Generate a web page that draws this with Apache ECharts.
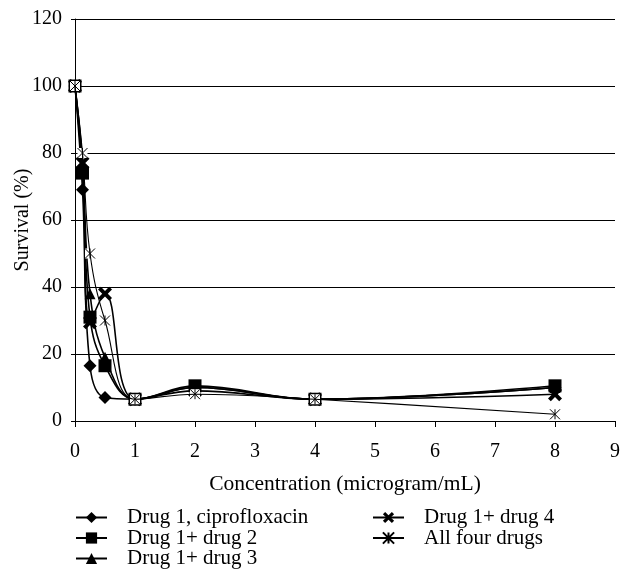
<!DOCTYPE html>
<html><head><meta charset="utf-8">
<script src="https://cdn.jsdelivr.net/npm/echarts@6/dist/echarts.min.js"></script>
<style>html,body{margin:0;padding:0;background:#fff}#c{width:621px;height:577px}</style>
</head><body><div id="c"></div>
<script>
const concentrations = [0, 0.125, 0.25, 0.5, 1, 2, 4, 8];
const seriesNames = ['Drug 1, ciprofloxacin', 'Drug 1+ drug 2', 'Drug 1+ drug 3', 'Drug 1+ drug 4', 'All four drugs'];
const drug1 = [100, 69, 16.5, 7, 6.5, 10, 6.5, 10];
const drug1_2 = [100, 74, 31, 16.5, 6.5, 10.5, 6.5, 10.5];
const drug1_3 = [100, 76.5, 38, 19, 6.5, 10, 6.5, 10];
const drug1_4 = [100, 77, 29.5, 38, 6.5, 9, 6.5, 8];
const allFour = [100, 80, 50, 30, 6.5, 8, 6.5, 2];
const yTicks = [0, 20, 40, 60, 80, 100, 120];
const xTicks = [0, 1, 2, 3, 4, 5, 6, 7, 8, 9];

const FONT = '"Liberation Serif", "DejaVu Serif", serif';
const xSym = 'path://M0,2L2,0L5,3L8,0L10,2L7,5L10,8L8,10L5,7L2,10L0,8L3,5Z';
const starSym = 'path://M0,0L10,10M10,0L0,10M5,0L5,10';

function pairs(arr){ return concentrations.map((c,i)=>[c, arr[i]]); }
const allData = [drug1, drug1_2, drug1_3, drug1_4, allFour];
const symbols = ['diamond', 'rect', 'triangle', xSym, starSym];
const sizes = [13, 13, 11, 14, 10];

const series = [];
allData.forEach((d, i) => {
  if (i === 4) {
    // white backing box behind the asterisk markers
    series.push({
      name: '', type: 'line', data: pairs(d), smooth: 0.4, silent: true,
      symbol: 'rect', symbolSize: 10, showAllSymbol: true,
      lineStyle: {width: 0, opacity: 0},
      itemStyle: {color: '#fff'}, z: 3
    });
  }
  const s = {
    name: seriesNames[i], type: 'line', data: pairs(d), smooth: 0.4,
    symbol: symbols[i], symbolSize: sizes[i], showAllSymbol: true,
    lineStyle: {color: '#000', width: 1.6},
    itemStyle: {color: '#000'},
    z: 2
  };
  if (i === 4) {
    s.itemStyle = {color: '#fff', borderColor: '#000', borderWidth: 1};
    s.lineStyle.width = 1.1;
    s.z = 4;
  }
  series.push(s);
});

const legendPos = [[75, 507], [75, 527.5], [75, 548], [372, 507], [372, 527.5]];
const legends = seriesNames.map((n, i) => ({
  data: [n], left: legendPos[i][0], top: legendPos[i][1], padding: 0,
  itemWidth: 31, itemHeight: 14, selectedMode: false,
  textStyle: {fontFamily: FONT, fontSize: 21, lineHeight: 20, color: '#000', padding: [0, 0, 0, 15]}
}));

const chart = echarts.init(document.getElementById('c'), null, {renderer: 'canvas'});
chart.setOption({
  animation: false,
  backgroundColor: '#fff',
  grid: {left: 75, right: 6, top: 19, bottom: 156, containLabel: false, outerBoundsMode: 'none'},
  xAxis: {
    type: 'value', min: xTicks[0], max: xTicks[xTicks.length-1], interval: 1,
    name: 'Concentration (microgram/mL)', nameLocation: 'middle', nameGap: 52, nameMoveOverlap: false,
    nameTextStyle: {fontFamily: FONT, fontSize: 21.5, color: '#000'},
    axisLine: {show: true, onZero: false, lineStyle: {color: '#000', width: 1}},
    axisTick: {show: true, length: 6, lineStyle: {color: '#000'}},
    axisLabel: {fontFamily: FONT, fontSize: 20, color: '#000', margin: 21},
    splitLine: {show: false}
  },
  yAxis: {
    type: 'value', min: yTicks[0], max: yTicks[yTicks.length-1], interval: 20,
    name: 'Survival (%)', nameLocation: 'middle', nameGap: 42, nameMoveOverlap: false,
    nameTextStyle: {fontFamily: FONT, fontSize: 20, color: '#000'},
    axisLine: {show: true, lineStyle: {color: '#000', width: 1}},
    axisTick: {show: true, length: 4, lineStyle: {color: '#000'}},
    axisLabel: {fontFamily: FONT, fontSize: 20, color: '#000', margin: 13},
    splitLine: {show: true, lineStyle: {color: '#000', width: 1}}
  },
  legend: legends,
  series: series
});
</script></body></html>
